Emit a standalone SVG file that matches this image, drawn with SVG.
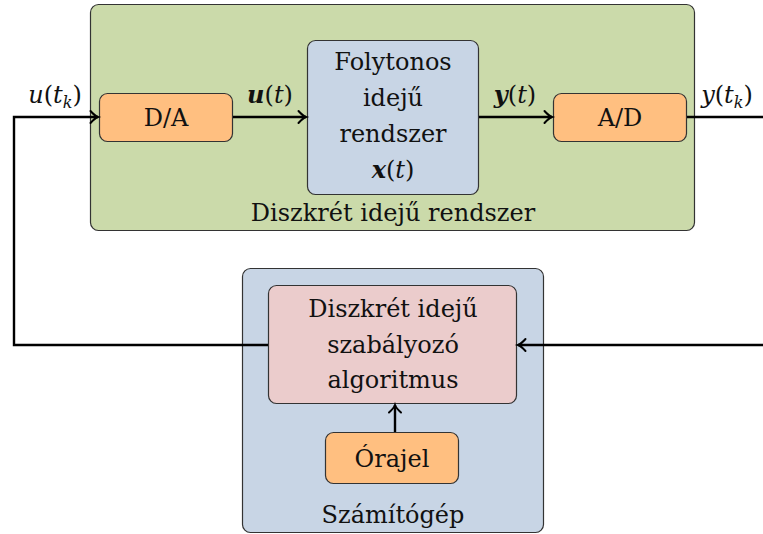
<svg xmlns="http://www.w3.org/2000/svg" width="763" height="534" viewBox="0 0 763 534">
<defs>
<marker id="arr" viewBox="-10 -6 12 12" refX="0" refY="0" markerWidth="12" markerHeight="12" markerUnits="userSpaceOnUse" orient="auto" overflow="visible">
<path d="M-7.5,-6 Q-3,-1 0,0 Q-3,1 -7.5,6" fill="none" stroke="#000" stroke-width="2" stroke-linecap="round"/>
</marker>
</defs>
<style>
.box{stroke:#333;stroke-width:1.2}
.t{font-family:"DejaVu Serif","Liberation Serif",serif;font-size:24px;fill:#111;text-anchor:middle}
.m{font-style:italic}
.b{font-weight:bold;font-style:italic}
.sub{font-size:16px;font-style:italic}
.c{fill:none;stroke:#000;stroke-width:2.4}
</style>
<g id="discrete-system">
<rect class="box" x="90.5" y="4.5" width="604" height="226" rx="8" fill="#cbdaaa"/>
<text class="t" x="393" y="221">Diszkrét idejű rendszer</text>
</g>
<g id="computer">
<rect class="box" x="242.5" y="268.5" width="301" height="264" rx="8" fill="#c8d5e5"/>
<text class="t" x="393" y="523">Számítógép</text>
</g>
<g id="da">
<rect class="box" x="99.5" y="93.5" width="133" height="48" rx="8" fill="#ffbf80"/>
<text class="t" x="166" y="126">D/A</text>
</g>
<g id="continuous">
<rect class="box" x="307.5" y="40.5" width="171" height="154" rx="8" fill="#c8d5e5"/>
<text class="t" x="393" y="70">Folytonos</text>
<text class="t" x="393" y="106">idejű</text>
<text class="t" x="393" y="142">rendszer</text>
<text class="t" x="393" y="178"><tspan class="b">x</tspan>(<tspan class="m">t</tspan>)</text>
</g>
<g id="ad">
<rect class="box" x="553.5" y="93.5" width="133" height="48" rx="8" fill="#ffbf80"/>
<text class="t" x="620" y="126">A/D</text>
</g>
<g id="controller">
<rect class="box" x="268.5" y="285.5" width="248" height="118" rx="8" fill="#ebcccc"/>
<text class="t" x="393" y="317">Diszkrét idejű</text>
<text class="t" x="393" y="353">szabályozó</text>
<text class="t" x="393" y="388">algoritmus</text>
</g>
<g id="clock">
<rect class="box" x="325.5" y="432.5" width="133" height="51" rx="8" fill="#ffbf80"/>
<text class="t" x="392" y="467">Órajel</text>
</g>
<g id="connectors">
<polyline class="c" points="268,345 14,345 14,117 98,117" marker-end="url(#arr)"/>
<line class="c" x1="233" y1="117" x2="306" y2="117" marker-end="url(#arr)"/>
<line class="c" x1="479" y1="117" x2="552" y2="117" marker-end="url(#arr)"/>
<line class="c" x1="687" y1="117" x2="763" y2="117"/>
<line class="c" x1="763" y1="345" x2="518" y2="345" marker-end="url(#arr)"/>
<line class="c" x1="395" y1="432" x2="395" y2="405" marker-end="url(#arr)"/>
<text class="t" x="55" y="103"><tspan class="m">u</tspan>(<tspan class="m">t</tspan><tspan class="sub" dy="5">k</tspan><tspan dy="-5">)</tspan></text>
<text class="t" x="270" y="103"><tspan class="b">u</tspan>(<tspan class="m">t</tspan>)</text>
<text class="t" x="515" y="103"><tspan class="b">y</tspan>(<tspan class="m">t</tspan>)</text>
<text class="t" x="727" y="103"><tspan class="m">y</tspan>(<tspan class="m">t</tspan><tspan class="sub" dy="5">k</tspan><tspan dy="-5">)</tspan></text>
</g>
</svg>
